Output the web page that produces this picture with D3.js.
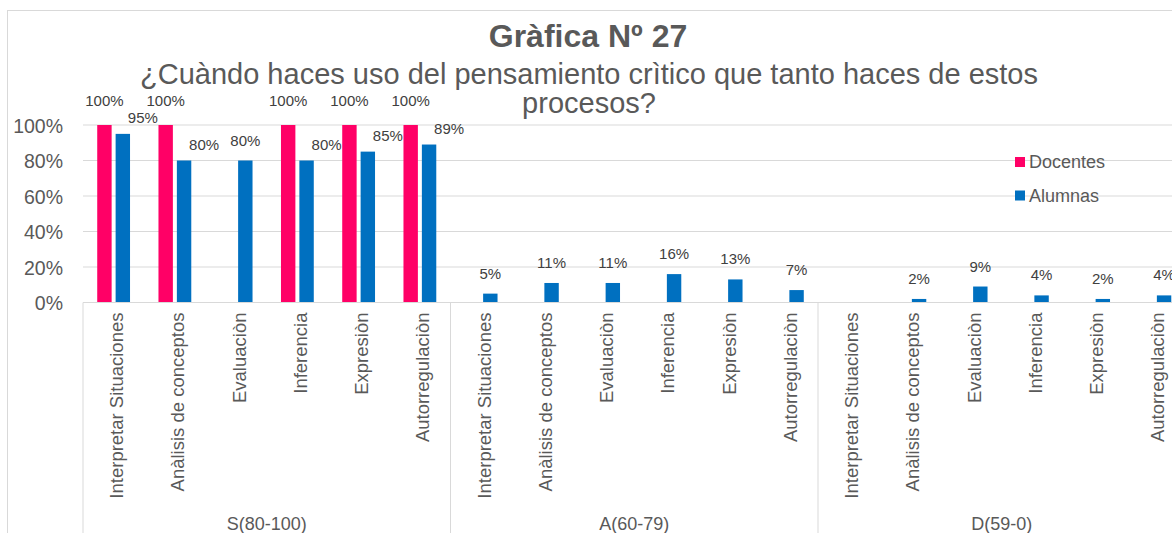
<!DOCTYPE html>
<html>
<head>
<meta charset="utf-8">
<script src="https://cdn.jsdelivr.net/npm/d3@7"></script>
<style>
  body { margin: 0; background: #fff; }
  svg { font-family: "Liberation Sans", Arial, sans-serif; display: block; }
</style>
</head>
<body>
<svg id="chart"></svg>
<script>
// chart data
var groups = ["S(80-100)", "A(60-79)", "D(59-0)"];
var processes = ["Interpretar Situaciones", "Anàlisis de conceptos", "Evaluaciòn",
                 "Inferencia", "Expresiòn", "Autorregulaciòn"];
var seriesNames = ["Docentes", "Alumnas"];

// one value per process, groups in order S, A, D (percent)
var docentes = [100, 100, 0, 100, 100, 100,
                0, 0, 0, 0, 0, 0,
                0, 0, 0, 0, 0, 0];
var alumnas = [95, 80, 80, 80, 85, 89,
               5, 11, 11, 16, 13, 7,
               0, 2, 9, 4, 2, 4];

var yTicks = [0, 0.2, 0.4, 0.6, 0.8, 1];
var titleText = "Gràfica Nº 27";
var subtitleLines = ["¿Cuàndo haces uso del pensamiento crìtico que tanto haces de estos",
                     "procesos?"];

var colors = {Docentes: "#ff0066", Alumnas: "#0070c0"};

var screen = {width: 1172, height: 533};
var plot = {left: 83, right: 1185.5, top: 125, bottom: 302.5};

var svg = d3.select("#chart")
    .attr("width", screen.width)
    .attr("height", screen.height);

// chart area border
svg.append("rect")
    .attr("x", 7.5).attr("y", 10.5)
    .attr("width", 1200).attr("height", 600)
    .attr("fill", "none")
    .attr("stroke", "#d9d9d9");

// build the flat list of categories (group + process)
var keys = [];
var rows = [];
groups.forEach(function(g, gi) {
    processes.forEach(function(p, pi) {
        var k = g + "|" + p;
        keys.push(k);
        rows.push({key: k, group: g, process: p,
                   Docentes: docentes[gi * processes.length + pi] / 100,
                   Alumnas: alumnas[gi * processes.length + pi] / 100});
    });
});

var xGroup = d3.scaleBand()
    .domain(groups)
    .range([plot.left, plot.right]);

var xCat = d3.scaleBand()
    .domain(keys)
    .range([plot.left, plot.right]);

var xSeries = d3.scaleBand()
    .domain(seriesNames)
    .range([0, xCat.bandwidth()])
    .paddingInner(0.217)
    .paddingOuter(0.773);

var yScale = d3.scaleLinear()
    .domain([0, 1])
    .range([plot.bottom, plot.top]);

// gridlines
svg.append("g")
    .selectAll("line")
    .data(yTicks.filter(function(t) { return t > 0; }))
    .enter()
    .append("line")
    .attr("x1", plot.left).attr("x2", screen.width)
    .attr("y1", function(t) { return yScale(t); })
    .attr("y2", function(t) { return yScale(t); })
    .attr("stroke", "#d9d9d9")
    .attr("stroke-width", 1);

// y axis
var yAxis = d3.axisLeft(yScale)
    .tickValues(yTicks)
    .tickFormat(d3.format(".0%"))
    .tickSize(0)
    .tickPadding(20);

svg.append("g")
    .attr("transform", "translate(" + plot.left + ",0)")
    .call(yAxis)
    .call(function(g) { g.select(".domain").remove(); })
    .selectAll("text")
    .attr("font-family", "Liberation Sans, Arial, sans-serif")
    .attr("font-size", 19.5)
    .attr("fill", "#595959")
    .attr("dy", "0.36em");

// bars
var cats = svg.append("g")
    .selectAll("g")
    .data(rows)
    .enter()
    .append("g")
    .attr("transform", function(d) { return "translate(" + xCat(d.key) + ",0)"; });

cats.selectAll("rect")
    .data(function(d) {
        return seriesNames.map(function(s) { return {series: s, value: d[s]}; });
    })
    .enter()
    .append("rect")
    .attr("x", function(d) { return xSeries(d.series); })
    .attr("width", xSeries.bandwidth())
    .attr("y", function(d) { return yScale(d.value); })
    .attr("height", function(d) { return yScale(0) - yScale(d.value); })
    .attr("fill", function(d) { return colors[d.series]; });

// data labels
cats.selectAll("text")
    .data(function(d) {
        return seriesNames.map(function(s) {
            return {series: s, value: d[s], shift: (s == "Alumnas" && d.Docentes > 0) ? 20 : 0};
        }).filter(function(e) { return e.value > 0; });
    })
    .enter()
    .append("text")
    .attr("x", function(d) { return xSeries(d.series) + xSeries.bandwidth() / 2 + d.shift; })
    .attr("y", function(d) {
        if (d.series == "Docentes") return yScale(d.value) - 19;
        return yScale(d.value) - (d.shift ? 11 : 15);
    })
    .attr("text-anchor", "middle")
    .attr("font-size", 15)
    .attr("fill", "#404040")
    .text(function(d) { return d3.format(".0%")(d.value); });

// category axis
var xAxis = d3.axisBottom(xCat)
    .tickSize(0)
    .tickFormat(function(k) { return k.split("|")[1]; });

var xg = svg.append("g")
    .attr("transform", "translate(0," + plot.bottom + ")")
    .call(xAxis);

xg.select(".domain").remove();
xg.selectAll("text")
    .attr("font-family", "Liberation Sans, Arial, sans-serif")
    .attr("font-size", 18.5)
    .attr("fill", "#595959")
    .attr("transform", "rotate(-90)")
    .attr("text-anchor", "end")
    .attr("x", -10)
    .attr("y", 3)
    .attr("dy", "0.35em");

svg.append("line")
    .attr("x1", plot.left).attr("x2", screen.width)
    .attr("y1", plot.bottom).attr("y2", plot.bottom)
    .attr("stroke", "#d9d9d9");

// group separators and group labels
svg.append("g")
    .selectAll("line")
    .data(groups.concat(["end"]))
    .enter()
    .append("line")
    .attr("x1", function(g, i) { return i < groups.length ? xGroup(g) : plot.right; })
    .attr("x2", function(g, i) { return i < groups.length ? xGroup(g) : plot.right; })
    .attr("y1", plot.bottom)
    .attr("y2", screen.height)
    .attr("stroke", "#d9d9d9");

svg.append("g")
    .selectAll("text")
    .data(groups)
    .enter()
    .append("text")
    .attr("x", function(g) { return xGroup(g) + xGroup.bandwidth() / 2; })
    .attr("y", 530)
    .attr("text-anchor", "middle")
    .attr("font-size", 18)
    .attr("fill", "#595959")
    .text(function(g) { return g; });

// legend
var legend = svg.append("g")
    .selectAll("g")
    .data(seriesNames)
    .enter()
    .append("g")
    .attr("transform", function(s, i) { return "translate(1015," + (157 + i * 33.5) + ")"; });

legend.append("rect")
    .attr("width", 10).attr("height", 10)
    .attr("fill", function(s) { return colors[s]; });

legend.append("text")
    .attr("x", 14)
    .attr("y", 5)
    .attr("dy", "0.35em")
    .attr("font-size", 18)
    .attr("fill", "#595959")
    .text(function(s) { return s; });

// title
svg.append("text")
    .attr("x", 588)
    .attr("y", 47)
    .attr("text-anchor", "middle")
    .attr("font-size", 32)
    .attr("font-weight", "bold")
    .attr("fill", "#595959")
    .text(titleText);

svg.append("g")
    .selectAll("text")
    .data(subtitleLines)
    .enter()
    .append("text")
    .attr("x", 589)
    .attr("y", function(t, i) { return 84 + i * 29; })
    .attr("text-anchor", "middle")
    .attr("font-size", 29)
    .attr("fill", "#595959")
    .text(function(t) { return t; });
</script>
</body>
</html>
